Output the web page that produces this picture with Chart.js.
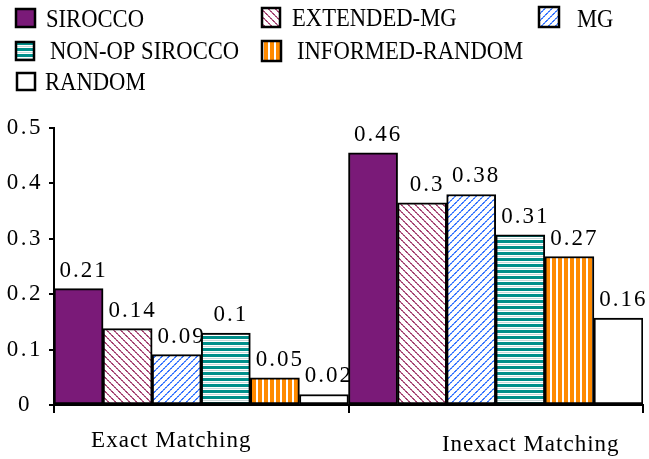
<!DOCTYPE html>
<html>
<head>
<meta charset="utf-8">
<script src="https://cdn.jsdelivr.net/npm/chart.js@4"></script>
<style>
  body { margin: 0; background: #fff; }
  canvas { display: block; }
</style>
</head>
<body>
<canvas id="chart" width="649" height="459"></canvas>
<script>
// data
const categories = ['Exact Matching', 'Inexact Matching'];
const seriesNames = ['SIROCCO', 'EXTENDED-MG', 'MG', 'NON-OP SIROCCO', 'INFORMED-RANDOM', 'RANDOM'];
const sirocco = [0.21, 0.455];
const extendedMg = [0.138, 0.365];
const mg = [0.091, 0.38];
const nonOpSirocco = [0.13, 0.307];
const informedRandom = [0.049, 0.268];
const random = [0.019, 0.157];
// printed value labels (as they appear on the picture)
const siroccoLabels = ['0.21', '0.46'];
const extendedMgLabels = ['0.14', '0.3'];
const mgLabels = ['0.09', '0.38'];
const nonOpLabels = ['0.1', '0.31'];
const informedLabels = ['0.05', '0.27'];
const randomLabels = ['0.02', '0.16'];

const yMax = 0.5;
const yStep = 0.1;

const SERIF = "'Liberation Serif', 'Times New Roman', serif";

function makePattern(w, h, paint) {
  const c = document.createElement('canvas');
  c.width = w;
  c.height = h;
  const g = c.getContext('2d');
  g.fillStyle = '#fff';
  g.fillRect(0, 0, w, h);
  paint(g);
  return document.getElementById('chart').getContext('2d').createPattern(c, 'repeat');
}

// dotted "\" lines
const extPattern = makePattern(7, 7, g => {
  for (let i = 0; i < 7; i++) {
    g.fillStyle = i % 2 ? '#c07a9c' : '#a3406f';
    g.fillRect(i, i, 1, 1);
    g.fillRect((i + 1) % 7, i, 1, 1);
  }
});
// dotted "/" lines
const mgPattern = makePattern(7, 7, g => {
  for (let i = 0; i < 7; i++) {
    g.fillStyle = i % 2 ? '#7aa6ff' : '#3573ff';
    g.fillRect(6 - i, i, 1, 1);
    g.fillRect((7 - i) % 7, i, 1, 1);
  }
});
const nonOpPattern = makePattern(6, 6, g => {
  g.fillStyle = '#008f8a';
  g.fillRect(0, 0, 6, 3);
  g.fillStyle = '#c8d8d8';
  g.fillRect(0, 4, 6, 1);
});
const informedPattern = makePattern(6, 6, g => {
  g.fillStyle = '#ff8a00';
  g.fillRect(0, 0, 4, 6);
});

const fills = ['#7a1a78', extPattern, mgPattern, nonOpPattern, informedPattern, '#ffffff'];
const seriesValues = [sirocco, extendedMg, mg, nonOpSirocco, informedRandom, random];
const seriesLabels = [siroccoLabels, extendedMgLabels, mgLabels, nonOpLabels, informedLabels, randomLabels];

const datasets = seriesNames.map((name, i) => ({
  label: name,
  data: seriesValues[i],
  valueLabels: seriesLabels[i],
  backgroundColor: fills[i],
  borderColor: '#000',
  borderWidth: 2,
  borderSkipped: false,
  barPercentage: 1,
  categoryPercentage: 1
}));

// Excel-like wide letter spacing for axis text
const spacingPlugin = {
  id: 'spacing',
  beforeLayout(chart) { chart.ctx.letterSpacing = '2.5px'; },
  beforeDraw(chart) { chart.ctx.letterSpacing = '2.5px'; }
};

const valueLabelPlugin = {
  id: 'valueLabels',
  afterDatasetsDraw(chart) {
    const ctx = chart.ctx;
    ctx.save();
    ctx.font = '23px ' + SERIF;
    ctx.letterSpacing = '2px';
    ctx.fillStyle = '#000';
    ctx.textAlign = 'center';
    ctx.textBaseline = 'alphabetic';
    chart.data.datasets.forEach((ds, i) => {
      chart.getDatasetMeta(i).data.forEach((bar, j) => {
        ctx.fillText(ds.valueLabels[j], bar.x + 5, bar.y - 12);
      });
    });
    ctx.restore();
  }
};

const categoryLabelPlugin = {
  id: 'categoryLabels',
  afterDraw(chart) {
    const ctx = chart.ctx;
    const xs = chart.scales.x;
    const shift = [-30, 35];
    const base = [447, 451];
    ctx.save();
    ctx.font = '23px ' + SERIF;
    ctx.letterSpacing = '1px';
    ctx.fillStyle = '#000';
    ctx.textAlign = 'center';
    categories.forEach((c, i) => {
      ctx.fillText(c, xs.getPixelForValue(i) + shift[i], base[i]);
    });
    ctx.restore();
  }
};

// legend laid out like the original: 3 + 2 + 1 items
const legendPlugin = {
  id: 'boxLegend',
  afterDraw(chart) {
    const ctx = chart.ctx;
    const spots = [
      { box: [16, 9, 19, 18], tx: 46, ty: 27 },
      { box: [262, 8, 18, 19], tx: 292, ty: 26 },
      { box: [539, 7, 20, 20], tx: 577, ty: 27 },
      { box: [16, 42, 18, 18], tx: 50, ty: 59 },
      { box: [262, 41, 19, 20], tx: 297, ty: 59 },
      { box: [17, 73, 18, 17], tx: 45, ty: 90 }
    ];
    ctx.save();
    chart.data.datasets.forEach((ds, i) => {
      const s = spots[i];
      const [bx, by, bw, bh] = s.box;
      ctx.fillStyle = ds.backgroundColor;
      ctx.fillRect(bx, by, bw, bh);
      ctx.strokeStyle = '#000';
      ctx.lineWidth = 2.5;
      ctx.strokeRect(bx, by, bw, bh);

      ctx.save();
      ctx.translate(s.tx, s.ty);
      ctx.scale(0.87, 1);
      ctx.font = '26px ' + SERIF;
      ctx.letterSpacing = '0px';
      ctx.fillStyle = '#000';
      ctx.textAlign = 'left';
      ctx.textBaseline = 'alphabetic';
      ctx.fillText(ds.label, 0, 0);
      ctx.restore();
    });
    ctx.restore();
  }
};

new Chart(document.getElementById('chart'), {
  type: 'bar',
  data: { labels: categories, datasets },
  options: {
    responsive: false,
    animation: false,
    layout: { padding: { top: 128, right: 6, left: 0, bottom: 0 } },
    plugins: {
      legend: { display: false },
      tooltip: { enabled: false }
    },
    scales: {
      x: {
        grid: {
          display: true,
          drawOnChartArea: false,
          drawTicks: true,
          tickLength: 8,
          color: '#000',
          lineWidth: 2,
          offset: true
        },
        border: { display: true, color: '#000', width: 2 },
        ticks: { display: false },
        afterFit(scale) { scale.height = 54; }
      },
      y: {
        min: 0,
        max: yMax,
        ticks: {
          stepSize: yStep,
          color: '#000',
          font: { family: SERIF, size: 23 },
          crossAlign: 'center',
          padding: 6
        },
        grid: {
          drawOnChartArea: false,
          drawTicks: true,
          tickLength: 5,
          color: '#000',
          lineWidth: 2
        },
        border: { display: true, color: '#000', width: 2 },
        afterFit(scale) { scale.width = 54; }
      }
    }
  },
  plugins: [spacingPlugin, valueLabelPlugin, categoryLabelPlugin, legendPlugin]
});
</script>
</body>
</html>
